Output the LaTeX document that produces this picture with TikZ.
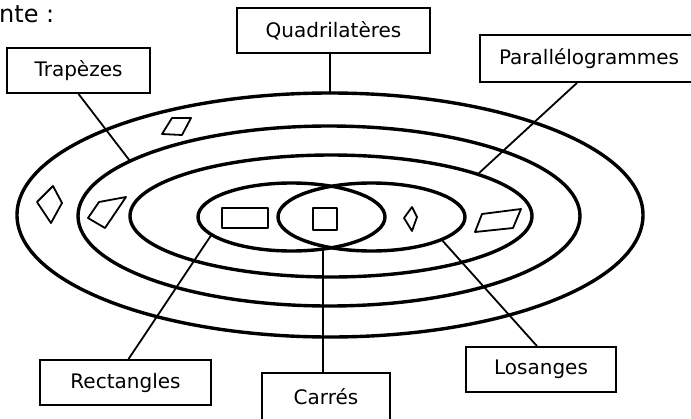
\documentclass[tikz,border=0pt]{standalone}
\usepackage{fontspec}
\setmainfont{DejaVu Sans}
\begin{document}
\begin{tikzpicture}[x=1pt,y=-1pt,
  lab/.style={draw, line width=1.8pt, inner sep=0pt, font=\fontsize{20}{24}\selectfont},
  ring/.style={line width=3.4pt},
  conn/.style={line width=1.8pt},
  fig/.style={line width=1.8pt, line join=round}]
\useasboundingbox (0,0) rectangle (691,418);
\clip (0,0) rectangle (691,418);
% heading fragment
\node[anchor=north west, inner sep=0pt, font=\fontsize{24}{28}\selectfont] (head) at (-1,5) {nte :};
% nested sets
\draw[ring] (330,215) ellipse [x radius=313pt, y radius=122pt];
\draw[ring] (329,216) ellipse [x radius=251pt, y radius=90pt];
\draw[ring] (331,216) ellipse [x radius=201pt, y radius=61pt];
\draw[ring] (291.5,217) ellipse [x radius=93.5pt, y radius=34pt];
\draw[ring] (371.5,217) ellipse [x radius=93.5pt, y radius=34pt];
% figures
\draw[fig] (53,186) -- (37,202) -- (51,223) -- (62,203) -- cycle;
\draw[fig] (162,134) -- (172,118) -- (191,118) -- (182,135) -- cycle;
\draw[fig] (88,218) -- (99,202) -- (126,197) -- (105,228) -- cycle;
\draw[fig] (222,208) rectangle (268,228);
\draw[fig] (313,208) rectangle (337,230);
\draw[fig] (404,218) -- (412,207) -- (417,217) -- (412,231) -- cycle;
\draw[fig] (475,232) -- (482,214) -- (521,209) -- (513,228) -- cycle;
% labels
\node[lab, minimum width=193pt, minimum height=45pt] (quad) at (333.5,30.5) {Quadrilatères};
\node[lab, minimum width=143pt, minimum height=45pt] (trap) at (78.5,70.5) {Trapèzes};
\node[lab, minimum width=218pt, minimum height=47pt] (para) at (589,58.5) {Parallélogrammes};
\node[lab, minimum width=171pt, minimum height=45pt] (rect) at (125.5,382.5) {Rectangles};
\node[lab, minimum width=128pt, minimum height=48pt] (carr) at (326,397) {Carrés};
\node[lab, minimum width=150pt, minimum height=45pt] (los) at (541,369.5) {Losanges};
% connector ends on the sets
\coordinate (eQuad) at (330,93);
\coordinate (eTrap) at (130,161);
\coordinate (ePara) at (478,174);
\coordinate (eRect) at (212,234);
\coordinate (eCarr) at (323,248);
\coordinate (eLos) at (441,239);
% connectors
\draw[conn] ([xshift=-3.5pt]quad.south) -- (eQuad);
\draw[conn] (trap.south) -- (eTrap);
\draw[conn] ([xshift=-12pt]para.south) -- (ePara);
\draw[conn] ([xshift=3pt]rect.north) -- (eRect);
\draw[conn] ([xshift=-3pt]carr.north) -- (eCarr);
\draw[conn] ([xshift=-4pt]los.north) -- (eLos);
\end{tikzpicture}
\end{document}
